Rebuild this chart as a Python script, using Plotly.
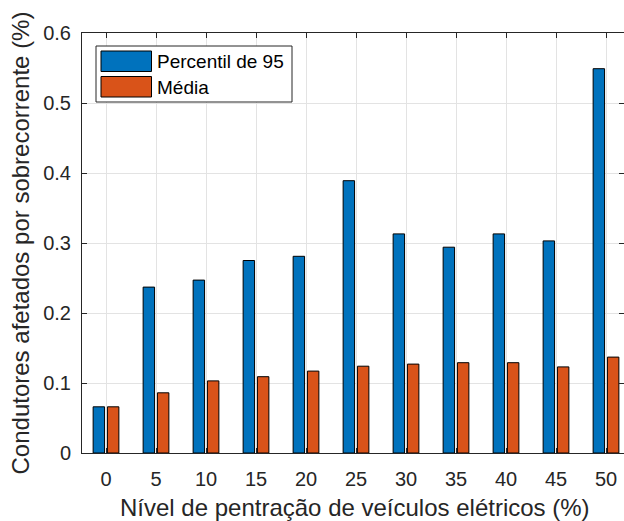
import plotly.graph_objects as go

# Penetration levels of electric vehicles (%)
niveis = ["0", "5", "10", "15", "20", "25", "30", "35", "40", "45", "50"]
# Conductors affected by overcurrent (%)
percentil_95 = [0.066, 0.237, 0.247, 0.275, 0.281, 0.389, 0.313, 0.294, 0.313, 0.303, 0.549]
media = [0.066, 0.086, 0.103, 0.109, 0.117, 0.124, 0.127, 0.129, 0.129, 0.123, 0.137]
y_ticks = [0, 0.1, 0.2, 0.3, 0.4, 0.5, 0.6]
y_ticktext = ["0", "0.1", "0.2", "0.3", "0.4", "0.5", "0.6"]
series_names = ["Percentil de 95", "Média"]

W, H = 624, 521
ML, MR, MT, MB = 82, 0, 33, 68
PW, PH = W - ML - MR, H - MT - MB

BLUE = "#0072BD"
ORANGE = "#D95319"
TXT = "#262626"
FONT = "Liberation Sans, Helvetica, Arial, sans-serif"


def px_x(p):
    return (p - ML) / PW


def px_y(p):
    return (H - MB - p) / PH


fig = go.Figure()
fig.add_trace(go.Bar(x=niveis, y=percentil_95, name=series_names[0],
                     marker=dict(color=BLUE, line=dict(color="black", width=1))))
fig.add_trace(go.Bar(x=niveis, y=media, name=series_names[1],
                     marker=dict(color=ORANGE, line=dict(color="black", width=1))))

shapes = []
annotations = []

# legend box
shapes.append(dict(type="rect", xref="paper", yref="paper",
                   x0=px_x(96), x1=px_x(292), y0=px_y(102), y1=px_y(46),
                   fillcolor="white", line=dict(color=TXT, width=1), layer="above"))
for i, (name, col) in enumerate(zip(series_names, [BLUE, ORANGE])):
    top = 51 + i * 25.5
    shapes.append(dict(type="rect", xref="paper", yref="paper",
                       x0=px_x(101), x1=px_x(151.5), y0=px_y(top + 20.5), y1=px_y(top),
                       fillcolor=col, line=dict(color="black", width=1), layer="above"))
    annotations.append(dict(xref="paper", yref="paper", x=px_x(155), y=px_y(top + 10.5),
                            text=name, showarrow=False, xanchor="left", yanchor="middle",
                            font=dict(family=FONT, size=19, color="black")))

# x axis title
annotations.append(dict(xref="paper", yref="paper", x=px_x(354.5), y=px_y(523),
                        text="Nível de pentração de veículos elétricos (%)", showarrow=False,
                        xanchor="center", yanchor="bottom",
                        font=dict(family=FONT, size=24, color=TXT)))

fig.update_layout(
    width=W, height=H,
    margin=dict(l=ML, r=MR, t=MT, b=MB, pad=0),
    plot_bgcolor="white", paper_bgcolor="white",
    barmode="group", bargap=0.428, bargroupgap=0.2,
    showlegend=False,
    font=dict(family=FONT, size=20, color=TXT),
    shapes=shapes, annotations=annotations,
)
fig.update_xaxes(
    type="category", range=[-0.48, 10.36],
    showline=True, linecolor=TXT, linewidth=1, mirror="ticks",
    ticks="inside", ticklen=5, tickcolor=TXT,
    showgrid=True, gridcolor="#e3e3e3", gridwidth=1,
    tickfont=dict(family=FONT, size=20, color=TXT),
    ticklabelstandoff=8,
)
fig.update_yaxes(
    range=[0, 0.6], tickvals=y_ticks, ticktext=y_ticktext,
    showline=True, linecolor=TXT, linewidth=1, mirror="ticks",
    ticks="inside", ticklen=5, tickcolor=TXT,
    showgrid=True, gridcolor="#e3e3e3", gridwidth=1, zeroline=False,
    tickfont=dict(family=FONT, size=20, color=TXT),
    ticklabelstandoff=6,
    title=dict(text="Condutores afetados por sobrecorrente (%)",
               font=dict(family=FONT, size=24, color=TXT), standoff=6),
    automargin=False,
)

fig.write_html("out.html")
